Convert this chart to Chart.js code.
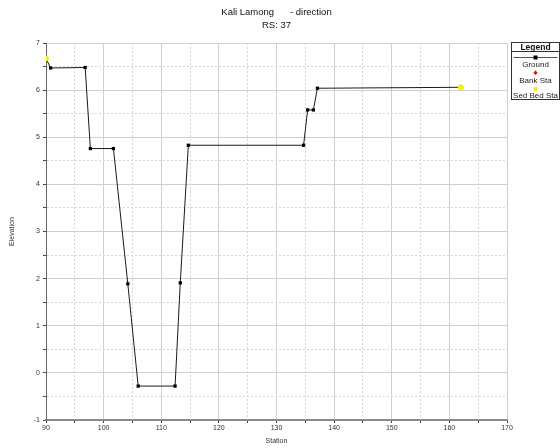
<!DOCTYPE html>
<html>
<head>
<meta charset="utf-8">
<script src="https://cdn.jsdelivr.net/npm/chart.js@4"></script>
<style>
  html, body { margin: 0; padding: 0; background: #fff; }
  #box { width: 560px; height: 448px; }
</style>
</head>
<body>
<div id="box"><canvas id="grafico"></canvas></div>
<script>
// Dados da secção transversal
var tituloTexto = 'Kali Lamong      - direction';
var subtituloTexto = 'RS: 37';

var groundStation = [90.0, 90.8, 96.8, 97.7, 101.7, 104.2, 106.0, 112.4, 113.3, 114.7, 134.7, 135.4, 136.4, 137.1, 162.0];
var groundElev = [6.67, 6.47, 6.48, 4.76, 4.76, 1.89, -0.28, -0.28, 1.91, 4.83, 4.83, 5.58, 5.58, 6.04, 6.06];

var bankStation = [90.0, 162.0];
var bankElev = [6.67, 6.06];

var sedBedStation = [90.0, 162.0];
var sedBedElev = [6.67, 6.06];

var xMin = 90, xMax = 170;
var yMin = -1, yMax = 7;

function pares(xs, ys) {
    var out = [];
    for (var i = 0; i < xs.length; i++) out.push({ x: xs[i], y: ys[i] });
    return out;
}

var fonte = "'Liberation Sans', Arial, sans-serif";

// Plugin para título e caixa da legenda
var extras = {
    id: 'extras',
    afterDraw: function(chart) {
        var c = chart.ctx;
        var area = chart.chartArea;
        var cx = (area.left + area.right) / 2;
        c.save();
        c.fillStyle = '#111';
        c.textAlign = 'center';
        c.textBaseline = 'middle';
        c.font = '9.5px ' + fonte;
        c.fillText(tituloTexto, cx, 12);
        c.fillText(subtituloTexto, cx, 25);

        // caixa da legenda
        var lx = 511.5, ly = 42.5, lw = 48, lh = 57;
        var mx = lx + lw / 2;
        c.strokeStyle = '#333';
        c.lineWidth = 1;
        c.strokeRect(lx, ly, lw, lh);
        c.beginPath();
        c.moveTo(lx, 51.5);
        c.lineTo(lx + lw, 51.5);
        c.stroke();

        c.font = 'bold 8.5px ' + fonte;
        c.fillText('Legend', mx, 47.5);

        var ds = chart.data.datasets;
        c.font = '8px ' + fonte;
        c.fillStyle = '#222';
        // Ground
        c.strokeStyle = '#555';
        c.beginPath();
        c.moveTo(lx + 2, 57.5);
        c.lineTo(lx + lw - 2, 57.5);
        c.stroke();
        c.fillStyle = '#000';
        c.fillRect(mx - 2, 55.5, 4, 4);
        c.fillStyle = '#222';
        c.fillText(ds[2].label, mx, 64.5);
        // Bank Sta
        c.fillStyle = ds[1].pointBackgroundColor;
        c.beginPath();
        c.moveTo(mx, 70.5);
        c.lineTo(mx + 2.2, 72.7);
        c.lineTo(mx, 74.9);
        c.lineTo(mx - 2.2, 72.7);
        c.closePath();
        c.fill();
        c.fillStyle = '#222';
        c.fillText(ds[1].label, mx, 80.5);
        // Sed Bed Sta
        c.fillStyle = ds[0].pointBackgroundColor;
        c.beginPath();
        c.arc(mx, 89, 2.3, 0, Math.PI * 2);
        c.fill();
        c.fillStyle = '#222';
        c.fillText(ds[0].label, mx, 95.5);
        c.restore();
    }
};

new Chart(document.getElementById('grafico').getContext('2d'), {
    type: 'scatter',
    data: {
        datasets: [{
            label: 'Sed Bed Sta',
            data: pares(sedBedStation, sedBedElev),
            showLine: false,
            pointStyle: 'circle',
            pointRadius: 3,
            pointBackgroundColor: '#f4ec1c',
            pointBorderColor: '#f4ec1c',
            pointBorderWidth: 0
        }, {
            label: 'Bank Sta',
            data: pares(bankStation, bankElev),
            showLine: false,
            pointStyle: 'rectRot',
            pointRadius: 2.5,
            pointBackgroundColor: '#e01010',
            pointBorderColor: '#e01010',
            pointBorderWidth: 0
        }, {
            label: 'Ground',
            data: pares(groundStation, groundElev),
            showLine: true,
            borderColor: '#1a1a1a',
            borderWidth: 1,
            pointStyle: 'rect',
            pointRadius: 2.3,
            pointBackgroundColor: '#000',
            pointBorderColor: '#000',
            pointBorderWidth: 0,
            tension: 0
        }]
    },
    options: {
        responsive: true,
        maintainAspectRatio: false,
        animation: false,
        layout: { padding: { top: 43, right: 53, left: 0, bottom: 0 } },
        plugins: {
            legend: { display: false },
            title: { display: false },
            tooltip: { enabled: false }
        },
        scales: {
            x: {
                type: 'linear',
                min: xMin,
                max: xMax,
                afterFit: function(scale) { scale.height = 28; },
                ticks: {
                    stepSize: 5,
                    autoSkip: false,
                    maxRotation: 0,
                    padding: 1,
                    color: '#333',
                    font: { size: 7, family: fonte },
                    callback: function(v) { return v % 10 === 0 ? v : ''; }
                },
                grid: {
                    color: function(ctx) { return ctx.tick && ctx.tick.value % 10 === 0 ? '#cfcfcf' : '#d6d6d6'; },
                    lineWidth: 1,
                    tickLength: 3,
                    tickColor: '#444'
                },
                border: {
                    display: true,
                    color: '#8a8a8a',
                    width: 2,
                    dash: function(ctx) { return ctx.tick && ctx.tick.value % 10 === 0 ? [] : [2, 2]; }
                },
                title: {
                    display: true,
                    text: 'Station',
                    color: '#333',
                    font: { size: 7, family: fonte },
                    padding: { top: 0, bottom: 3 }
                }
            },
            y: {
                type: 'linear',
                min: yMin,
                max: yMax,
                afterFit: function(scale) { scale.width = 46; },
                ticks: {
                    stepSize: 0.5,
                    autoSkip: false,
                    padding: 3,
                    color: '#333',
                    font: { size: 7, family: fonte },
                    callback: function(v) { return v % 1 === 0 ? v : ''; }
                },
                grid: {
                    color: function(ctx) { return ctx.tick && ctx.tick.value % 1 === 0 ? '#cfcfcf' : '#d6d6d6'; },
                    lineWidth: 1,
                    tickLength: 3,
                    tickColor: '#444'
                },
                border: {
                    display: true,
                    color: '#666',
                    width: 1,
                    dash: function(ctx) { return ctx.tick && ctx.tick.value % 1 === 0 ? [] : [2, 2]; }
                },
                title: {
                    display: true,
                    text: 'Elevation',
                    color: '#333',
                    font: { size: 7, family: fonte },
                    padding: { top: 8, bottom: 0 }
                }
            }
        }
    },
    plugins: [extras]
});
</script>
</body>
</html>
